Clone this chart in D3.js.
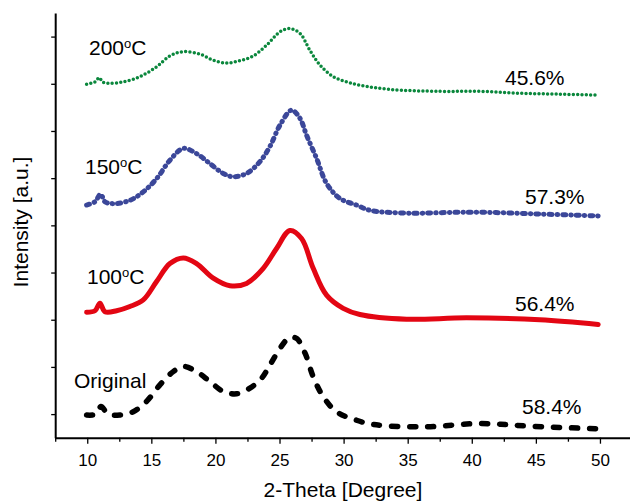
<!DOCTYPE html>
<html>
<head>
<meta charset="utf-8">
<script src="https://cdn.jsdelivr.net/npm/d3@7"></script>
<style>
  body { margin: 0; background: #fff; }
  text { font-family: "Liberation Sans", Arial, sans-serif; fill: #000; }
  .axis path, .axis line { stroke: #000; }
</style>
</head>
<body>
<div id="chart"></div>
<script>
// XRD patterns, [2-theta, intensity (a.u., stacked)]
var original = [[9.95,0.98],[10.73,1.00],[11.07,1.16],[11.64,1.00],[12.55,0.98],[13.59,1.05],[14.63,1.27],
  [15.67,1.62],[16.71,1.90],[17.49,2.01],[18.53,1.90],[19.57,1.69],[20.61,1.48],[21.65,1.43],[22.69,1.55],
  [23.6,1.76],[24.25,2.04],[25.03,2.39],[25.65,2.60],[25.97,2.63],[26.36,2.60],[27.01,2.28],[27.63,1.79],
  [28.41,1.37],[29.45,1.05],[31.01,0.87],[32.31,0.78],[36.21,0.73],[40.63,0.80],[44.79,0.74],[49.84,0.69]];
var t100 = [[9.95,3.16],[10.6,3.19],[10.99,3.35],[11.38,3.17],[12.29,3.19],[13.33,3.28],[14.37,3.42],
  [15.41,3.81],[16.45,4.19],[17.49,4.31],[18.53,4.19],[19.83,3.88],[21.13,3.72],[22.43,3.77],[23.73,4.09],
  [24.77,4.51],[25.81,4.89],[26.72,4.72],[27.63,4.09],[28.67,3.52],[29.97,3.24],[31.27,3.11],[34.91,3.01],
  [39.59,3.04],[45.31,3.00],[49.86,2.90]];
var t150 = [[9.95,5.43],[10.6,5.50],[11.05,5.66],[11.38,5.50],[12.03,5.46],[13.33,5.53],[14.37,5.71],
  [15.41,5.99],[16.45,6.38],[17.49,6.63],[18.53,6.52],[19.57,6.31],[20.61,6.10],[21.39,6.03],[22.43,6.10],
  [23.47,6.35],[24.25,6.67],[25.03,7.12],[25.94,7.44],[26.59,7.27],[27.11,6.91],[27.89,6.42],[28.67,5.89],
  [29.71,5.57],[31.01,5.43],[32.05,5.32],[34.91,5.26],[40.11,5.28],[45.31,5.24],[49.86,5.20]];
var t200 = [[9.95,7.99],[10.6,8.04],[10.94,8.13],[11.2,8.04],[11.77,8.01],[12.81,8.04],[14.11,8.15],
  [15.41,8.36],[16.45,8.59],[17.49,8.68],[18.79,8.63],[19.83,8.50],[20.87,8.44],[21.91,8.49],[22.95,8.59],
  [24.0,8.82],[25.03,9.10],[25.81,9.17],[26.59,9.07],[27.37,8.71],[28.15,8.40],[29.19,8.15],[30.23,8.04],
  [31.27,7.97],[33.61,7.88],[37.51,7.84],[40.63,7.84],[43.75,7.80],[46.87,7.78],[49.86,7.76]];

var seriesNames = ["Original", "100", "150", "200"];
var crystallinity = ["58.4%", "56.4%", "57.3%", "45.6%"];
var xTicks = [10, 15, 20, 25, 30, 35, 40, 45, 50];
var xMinorTicks = [7.5, 12.5, 17.5, 22.5, 27.5, 32.5, 37.5, 42.5, 47.5];
var yTicks = [1, 2, 3, 4, 5, 6, 7, 8, 9];

var width = 630, height = 501;

var x = d3.scaleLinear().domain([7.5, 52.5]).range([55.2, 632]);
var y = d3.scaleLinear().domain([0.5, 9.5]).range([437.7, 13]);

var svg = d3.select("#chart").append("svg")
  .attr("width", width)
  .attr("height", height);

// x axis
var xAxis = svg.append("g")
  .attr("class", "axis")
  .attr("transform", "translate(0," + y(0.5) + ")")
  .call(d3.axisBottom(x).tickValues(xTicks).tickSize(6).tickPadding(10).tickSizeOuter(0));
xAxis.select(".domain").attr("stroke-width", 2);
xAxis.selectAll(".tick line").attr("stroke-width", 1.3);
xAxis.selectAll(".tick text").style("font-size", "17px");

svg.append("g")
  .attr("class", "axis")
  .attr("transform", "translate(0," + y(0.5) + ")")
  .call(d3.axisBottom(x).tickValues(xMinorTicks).tickSize(4).tickFormat("").tickSizeOuter(0))
  .call(function (g) { g.select(".domain").remove(); })
  .selectAll(".tick line").attr("stroke-width", 1.3);

// y axis
var yAxis = svg.append("g")
  .attr("class", "axis")
  .attr("transform", "translate(" + x(7.5) + ",0)")
  .call(d3.axisLeft(y).tickValues(yTicks).tickSize(4).tickFormat("").tickSizeOuter(0));
yAxis.select(".domain").attr("stroke-width", 2);
yAxis.selectAll(".tick line").attr("stroke-width", 1.3);

// axis titles
svg.append("text")
  .attr("x", 343)
  .attr("y", 497)
  .attr("text-anchor", "middle")
  .style("font-size", "21px")
  .text("2-Theta [Degree]");

svg.append("text")
  .attr("transform", "translate(28,222) rotate(-90)")
  .attr("text-anchor", "middle")
  .style("font-size", "21px")
  .text("Intensity [a.u.]");

// curves
var line = d3.line()
  .x(function (d) { return x(d[0]); })
  .y(function (d) { return y(d[1]); })
  .curve(d3.curveCatmullRom.alpha(0.5));

var styles = [
  {data: original, color: "#000000", width: 5.5, dash: "6 12"},
  {data: t100, color: "#e30613", width: 5, dash: null},
  {data: t150, color: "#3b4799", width: 5, dash: "3 5 0.5 5"},
  {data: t200, color: "#0a873c", width: 3.5, dash: "0 4.3"}
];

styles.forEach(function (s) {
  svg.append("path")
    .datum(s.data)
    .attr("fill", "none")
    .attr("stroke", s.color)
    .attr("stroke-width", s.width)
    .attr("stroke-linecap", "round")
    .attr("stroke-linejoin", "round")
    .attr("stroke-dasharray", s.dash)
    .attr("d", line);
});

// sample labels
var labelPos = [[74, 388], [87, 284], [85, 174], [89, 55]];
seriesNames.forEach(function (name, i) {
  var t = svg.append("text")
    .attr("x", labelPos[i][0])
    .attr("y", labelPos[i][1])
    .style("font-size", "21px");
  if (name == "Original") {
    t.text(name);
  } else {
    t.append("tspan").text(name);
    t.append("tspan").attr("dy", -7).style("font-size", "13px").text("o");
    t.append("tspan").attr("dy", 7).text("C");
  }
});

var pctPos = [[522, 414], [515, 311], [525, 204], [505, 85]];
crystallinity.forEach(function (p, i) {
  svg.append("text")
    .attr("x", pctPos[i][0])
    .attr("y", pctPos[i][1])
    .style("font-size", "21px")
    .text(p);
});
</script>
</body>
</html>
